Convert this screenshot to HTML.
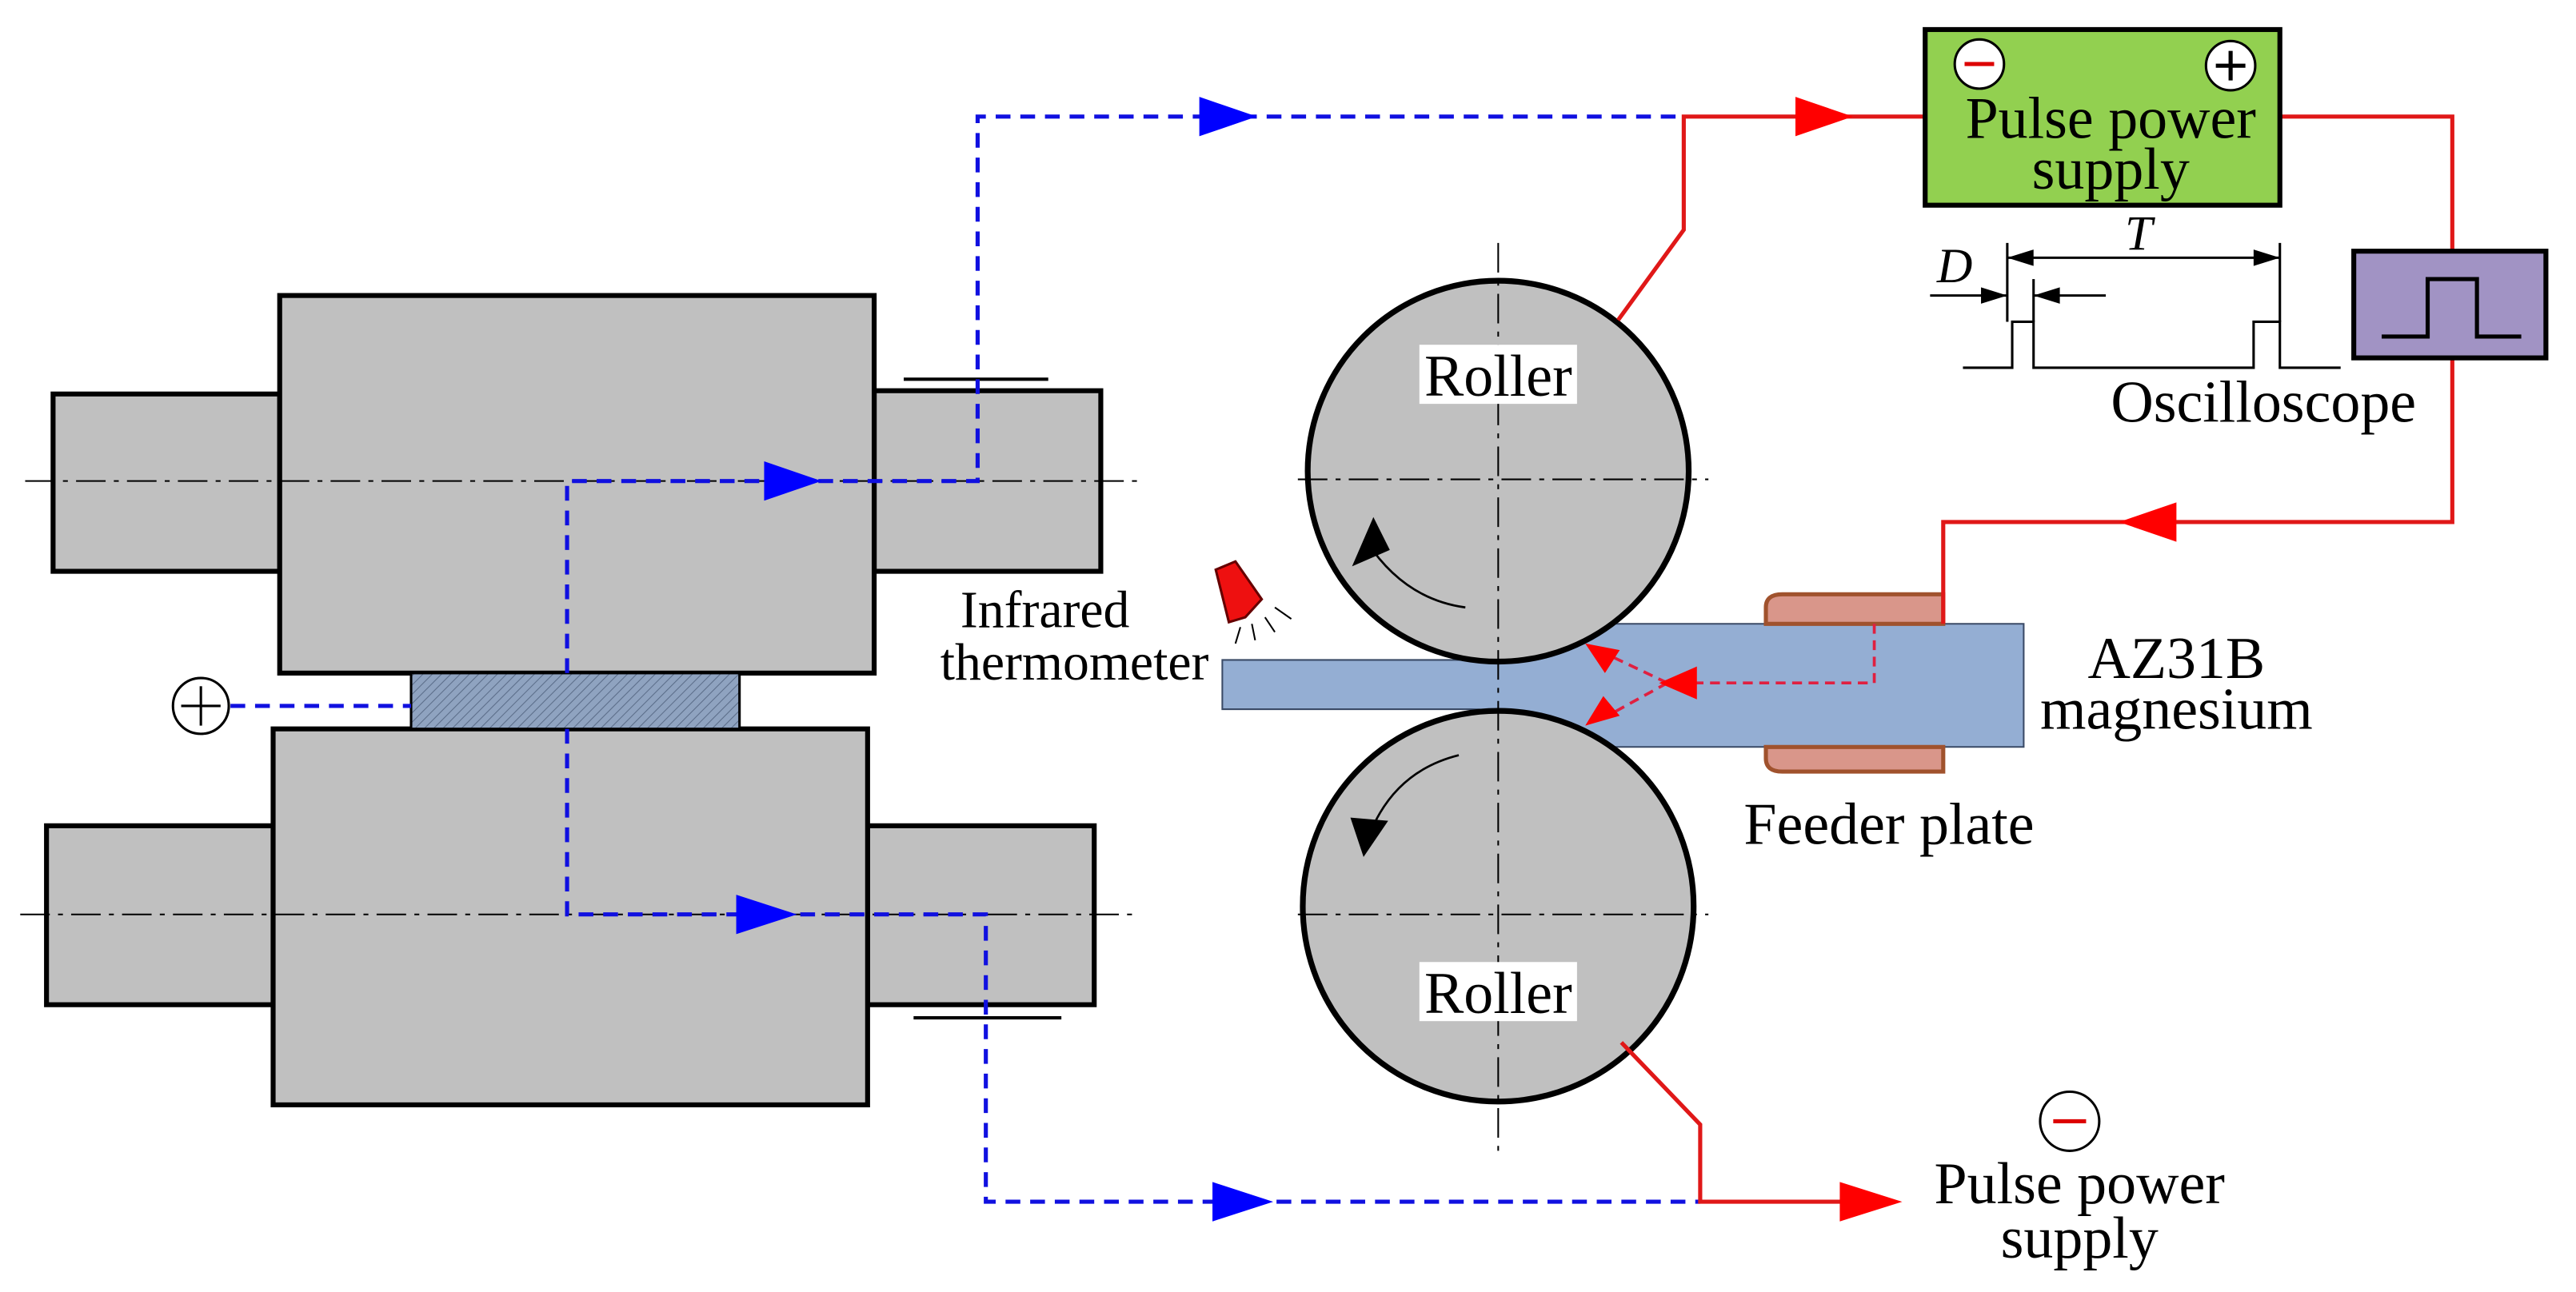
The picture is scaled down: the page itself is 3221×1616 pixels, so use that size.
<!DOCTYPE html>
<html><head><meta charset="utf-8"><style>
html,body{margin:0;padding:0;background:#fff;}
svg{display:block;}
text{font-family:"Liberation Serif",serif;fill:#000;}
</style></head><body>
<svg width="3221" height="1616" viewBox="0 0 1568 787" xmlns="http://www.w3.org/2000/svg">
<defs>
<pattern id="h" width="4" height="4" patternUnits="userSpaceOnUse" patternTransform="rotate(45)">
<rect width="4" height="4" fill="#8fa3c0"/><line x1="0" y1="0" x2="0" y2="4" stroke="#5a6c88" stroke-width="1"/>
</pattern>
</defs>
<g stroke="#000" stroke-width="3" fill="#c0c0c0">
<rect x="32" y="240" width="138" height="108"/>
<rect x="532" y="238" width="138" height="110"/>
<rect x="170" y="180" width="362" height="230"/>
<rect x="28" y="503" width="138" height="109"/>
<rect x="528" y="503" width="138" height="109"/>
<rect x="166" y="444" width="362" height="229"/>
</g>
<rect x="250" y="410" width="200" height="34" fill="url(#h)" stroke="#000" stroke-width="1.5"/>
<g stroke="#000" stroke-width="2">
<line x1="550" y1="231" x2="638" y2="231"/>
<line x1="556" y1="620" x2="646" y2="620"/>
</g>
<g stroke="#000" stroke-width="1" stroke-dasharray="18,5,3,5">
<line x1="15" y1="293" x2="695" y2="293"/>
<line x1="12" y1="557" x2="690" y2="557"/>
</g>
<circle cx="122" cy="430" r="17" fill="#fff" stroke="#000" stroke-width="1.5"/>
<line x1="110" y1="430" x2="134" y2="430" stroke="#000" stroke-width="1.5"/>
<line x1="122" y1="418" x2="122" y2="442" stroke="#000" stroke-width="1.5"/>
<g stroke="#1010e0" stroke-width="2.5" fill="none" stroke-dasharray="9,6">
<line x1="140" y1="430" x2="250" y2="430"/>
<polyline points="345,410 345,293 595,293 595,71 1025,71"/>
<polyline points="345,444 345,557 600,557 600,732 1035,732"/>
</g>
<g fill="#0000ff">
<polygon points="465,281 500,293 465,305"/>
<polygon points="730,59 765,71 730,83"/>
<polygon points="448,545 485,557 448,569"/>
<polygon points="738,720 775,732 738,744"/>
</g>
<path d="M744,402 L895,402 Q912,402 930,396 L975,380 L1232,380 L1232,455 L975,455 L930,438 Q912,432 895,432 L744,432 Z" fill="#94aed3" stroke="#3a4a66" stroke-width="1"/>
<path d="M1075,380 L1075,370 Q1075,362 1085,362 L1183,362 L1183,380 Z" fill="#d9968a" stroke="#a0522d" stroke-width="2.5"/>
<path d="M1075,455 L1075,462 Q1075,470 1085,470 L1183,470 L1183,455 Z" fill="#d9968a" stroke="#a0522d" stroke-width="2.5"/>
<g stroke="#000" stroke-width="3.5" fill="#c0c0c0">
<circle cx="912" cy="287" r="116"/>
<circle cx="912" cy="552" r="119"/>
</g>
<g stroke="#000" stroke-width="1" stroke-dasharray="18,5,3,5">
<line x1="912" y1="148" x2="912" y2="705"/>
<line x1="790" y1="292" x2="1040" y2="292"/>
<line x1="790" y1="557" x2="1040" y2="557"/>
</g>
<g stroke="#000" stroke-width="1.3" fill="none">
<path d="M892,370 Q855,365 832,330"/>
<path d="M888,460 Q848,470 833,510"/>
</g>
<polygon points="823,345 836,315 846,335" fill="#000"/>
<polygon points="822,498 845,500 830,522" fill="#000"/>
<rect x="864" y="210" width="96" height="36" fill="#fff"/>
<text x="912" y="241" font-size="36" text-anchor="middle">Roller</text>
<rect x="864" y="586" width="96" height="36" fill="#fff"/>
<text x="912" y="617" font-size="36" text-anchor="middle">Roller</text>
<g stroke="#e02040" stroke-width="1.8" fill="none" stroke-dasharray="6,4">
<polyline points="1141,380 1141,416 1025,416"/>
<line x1="1015" y1="416" x2="975" y2="397"/>
<line x1="1015" y1="416" x2="975" y2="438"/>
</g>
<g fill="#ff0000">
<polygon points="1010,416 1033,406 1033,426"/>
<polygon points="965,392 986,396 977,410"/>
<polygon points="965,442 976,424 986,436"/>
</g>
<path d="M740,347 L752,342 L768,365 L758,376 L748,379 Z" fill="#ee1010" stroke="#600" stroke-width="1.5"/>
<g stroke="#000" stroke-width="1"><line x1="755" y1="382" x2="752" y2="392"/><line x1="762" y1="380" x2="764" y2="390"/><line x1="770" y1="376" x2="776" y2="385"/><line x1="776" y1="370" x2="786" y2="377"/></g>
<g stroke="#e01818" stroke-width="2.5" fill="none">
<polyline points="985,195 1025,140 1025,71 1172,71"/>
<polyline points="1388,71 1493,71 1493,153"/>
<polyline points="1493,218 1493,318 1183,318 1183,380"/>
<polyline points="987,635 1035,685 1035,732 1125,732"/>
</g>
<g fill="#ff0000">
<polygon points="1093,59 1128,71 1093,83"/>
<polygon points="1325,306 1290,318 1325,330"/>
<polygon points="1120,720 1158,732 1120,744"/>
</g>
<rect x="1172" y="18" width="216" height="107" fill="#92d050" stroke="#000" stroke-width="3"/>
<circle cx="1205" cy="39" r="15" fill="#fff" stroke="#000" stroke-width="1.5"/>
<line x1="1196" y1="39" x2="1214" y2="39" stroke="#d00" stroke-width="2.5"/>
<circle cx="1358" cy="40" r="15" fill="#fff" stroke="#000" stroke-width="1.5"/>
<line x1="1349" y1="40" x2="1367" y2="40" stroke="#000" stroke-width="2.5"/>
<line x1="1358" y1="31" x2="1358" y2="49" stroke="#000" stroke-width="2.5"/>
<text x="1285" y="84" font-size="36" text-anchor="middle">Pulse power</text>
<text x="1285" y="115" font-size="36" text-anchor="middle">supply</text>
<rect x="1433" y="153" width="117" height="65" fill="#a193c4" stroke="#000" stroke-width="3"/>
<polyline points="1450,205 1478,205 1478,170 1508,170 1508,205 1535,205" fill="none" stroke="#000" stroke-width="2.5"/>
<g stroke="#000" stroke-width="1.5" fill="none">
<polyline points="1195,224 1225,224 1225,196 1238,196 1238,224 1372,224 1372,196 1388,196 1388,224 1425,224"/>
<line x1="1222" y1="148" x2="1222" y2="196"/>
<line x1="1238" y1="170" x2="1238" y2="196"/>
<line x1="1388" y1="148" x2="1388" y2="196"/>
<line x1="1222" y1="157" x2="1388" y2="157"/>
<line x1="1175" y1="180" x2="1222" y2="180"/>
<line x1="1238" y1="180" x2="1282" y2="180"/>
</g>
<g fill="#000">
<polygon points="1222,157 1238,152 1238,162"/>
<polygon points="1388,157 1372,152 1372,162"/>
<polygon points="1222,180 1206,175 1206,185"/>
<polygon points="1238,180 1254,175 1254,185"/>
</g>
<text x="1190" y="172" font-size="30" font-style="italic" text-anchor="middle">D</text>
<text x="1302" y="152" font-size="30" font-style="italic" text-anchor="middle">T</text>
<text x="1378" y="257" font-size="36" text-anchor="middle">Oscilloscope</text>
<circle cx="1260" cy="683" r="18" fill="#fff" stroke="#000" stroke-width="1.5"/>
<line x1="1250" y1="683" x2="1270" y2="683" stroke="#d00" stroke-width="2.5"/>
<text x="1266" y="733" font-size="36" text-anchor="middle">Pulse power</text>
<text x="1266" y="766" font-size="36" text-anchor="middle">supply</text>
<text x="636" y="382" font-size="32" text-anchor="middle">Infrared</text>
<text x="654" y="414" font-size="32" text-anchor="middle">thermometer</text>
<text x="1325" y="413" font-size="36" text-anchor="middle">AZ31B</text>
<text x="1325" y="444" font-size="36" text-anchor="middle">magnesium</text>
<text x="1150" y="514" font-size="36" text-anchor="middle">Feeder plate</text>
</svg>
</body></html>
